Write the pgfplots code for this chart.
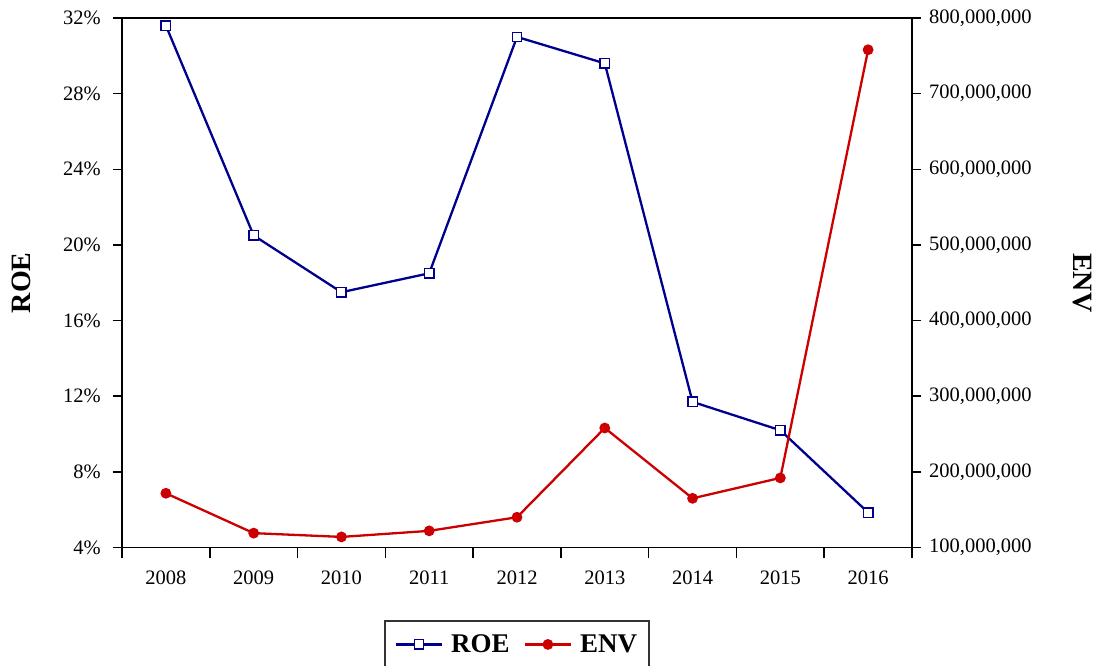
\documentclass[border=0pt]{standalone}
\usepackage{fontspec}
\setmainfont{Liberation Serif}
\usepackage{pgfplots}
\pgfplotsset{compat=1.18}
\definecolor{roeblue}{RGB}{0,0,140}
\definecolor{envred}{RGB}{204,0,0}
\begin{document}
\begin{tikzpicture}
\useasboundingbox (-122pt,-117.5pt) rectangle (975pt,547.5pt);
\begin{axis}[
  scale only axis,
  width=790pt, height=529.5pt,
  xmin=-0.5, xmax=8.5,
  ymin=4, ymax=32,
  axis line style={line width=1.5pt},
  every tick/.style={black, line width=1.5pt},
  tick align=outside,
  major tick length=9pt,
  minor tick length=10.5pt,
  xtick={0,1,2,3,4,5,6,7,8},
  xticklabels={2008,2009,2010,2011,2012,2013,2014,2015,2016},
  minor xtick={-0.5,0.5,1.5,2.5,3.5,4.5,5.5,6.5,7.5,8.5},
  major x tick style={draw=none},
  xtick pos=left,
  ytick pos=left,
  ytick={4,8,12,16,20,24,28,32},
  yticklabels={4\%,8\%,12\%,16\%,20\%,24\%,28\%,32\%},
  tick label style={font=\fontsize{20.5}{24}\selectfont},
  xticklabel style={anchor=north, inner sep=0pt, yshift=-14pt},
  yticklabel style={anchor=east, inner sep=0pt, xshift=-12pt},
  every axis y label/.style={},
  ylabel={\textbf{ROE}},
  ylabel style={at={(axis description cs:0,0.5)}, xshift=-101pt, rotate=90, anchor=center, font=\fontsize{28}{32}\selectfont},
  legend style={at={(axis description cs:0.5,0)}, yshift=-72.5pt, anchor=north,
    draw=black!80, line width=1.5pt, font=\fontsize{27}{30}\selectfont\bfseries,
    inner xsep=10pt, inner ysep=12pt,
    /tikz/every odd column/.append style={column sep=6pt},
    /tikz/every even column/.append style={column sep=12pt}},
  legend columns=2,
  legend image code/.code={\draw[mark repeat=2,mark phase=2] plot coordinates {(0pt,0pt) (23pt,0pt) (46pt,0pt)};},
]
\addplot[roeblue, line width=2.3pt, mark=square*, mark size=4.7pt, mark options={fill=white, line width=1.4pt}]
  coordinates {(0,31.6) (1,20.5) (2,17.5) (3,18.5) (4,31.0) (5,29.6) (6,11.7) (7,10.2) (8,5.85)};
\addlegendentry{ROE}
\addlegendimage{envred, line width=2.3pt, mark=*, mark size=4.2pt}
\addlegendentry{ENV}
\end{axis}
\begin{axis}[
  scale only axis,
  width=790pt, height=529.5pt,
  xmin=-0.5, xmax=8.5,
  ymin=100000000, ymax=800000000,
  axis x line=none,
  axis y line*=right,
  axis line style={line width=1.5pt},
  every tick/.style={black, line width=1.5pt},
  tick align=outside,
  major tick length=9pt,
  ytick={100000000,200000000,300000000,400000000,500000000,600000000,700000000,800000000},
  yticklabels={{100,000,000},{200,000,000},{300,000,000},{400,000,000},{500,000,000},{600,000,000},{700,000,000},{800,000,000}},
  scaled y ticks=false,
  tick label style={font=\fontsize{20.5}{24}\selectfont},
  yticklabel style={anchor=west, inner sep=0pt, xshift=8pt},
  every axis y label/.style={},
  ylabel={\textbf{ENV}},
  ylabel style={at={(axis description cs:1,0.5)}, xshift=170pt, rotate=-90, anchor=center, font=\fontsize{28}{32}\selectfont},
]
\addplot[envred, line width=2.3pt, mark=*, mark size=4.2pt]
  coordinates {(0,171700000) (1,119000000) (2,114000000) (3,122000000) (4,140000000) (5,258000000) (6,165000000) (7,192000000) (8,758000000)};
\end{axis}
\end{tikzpicture}
\end{document}
